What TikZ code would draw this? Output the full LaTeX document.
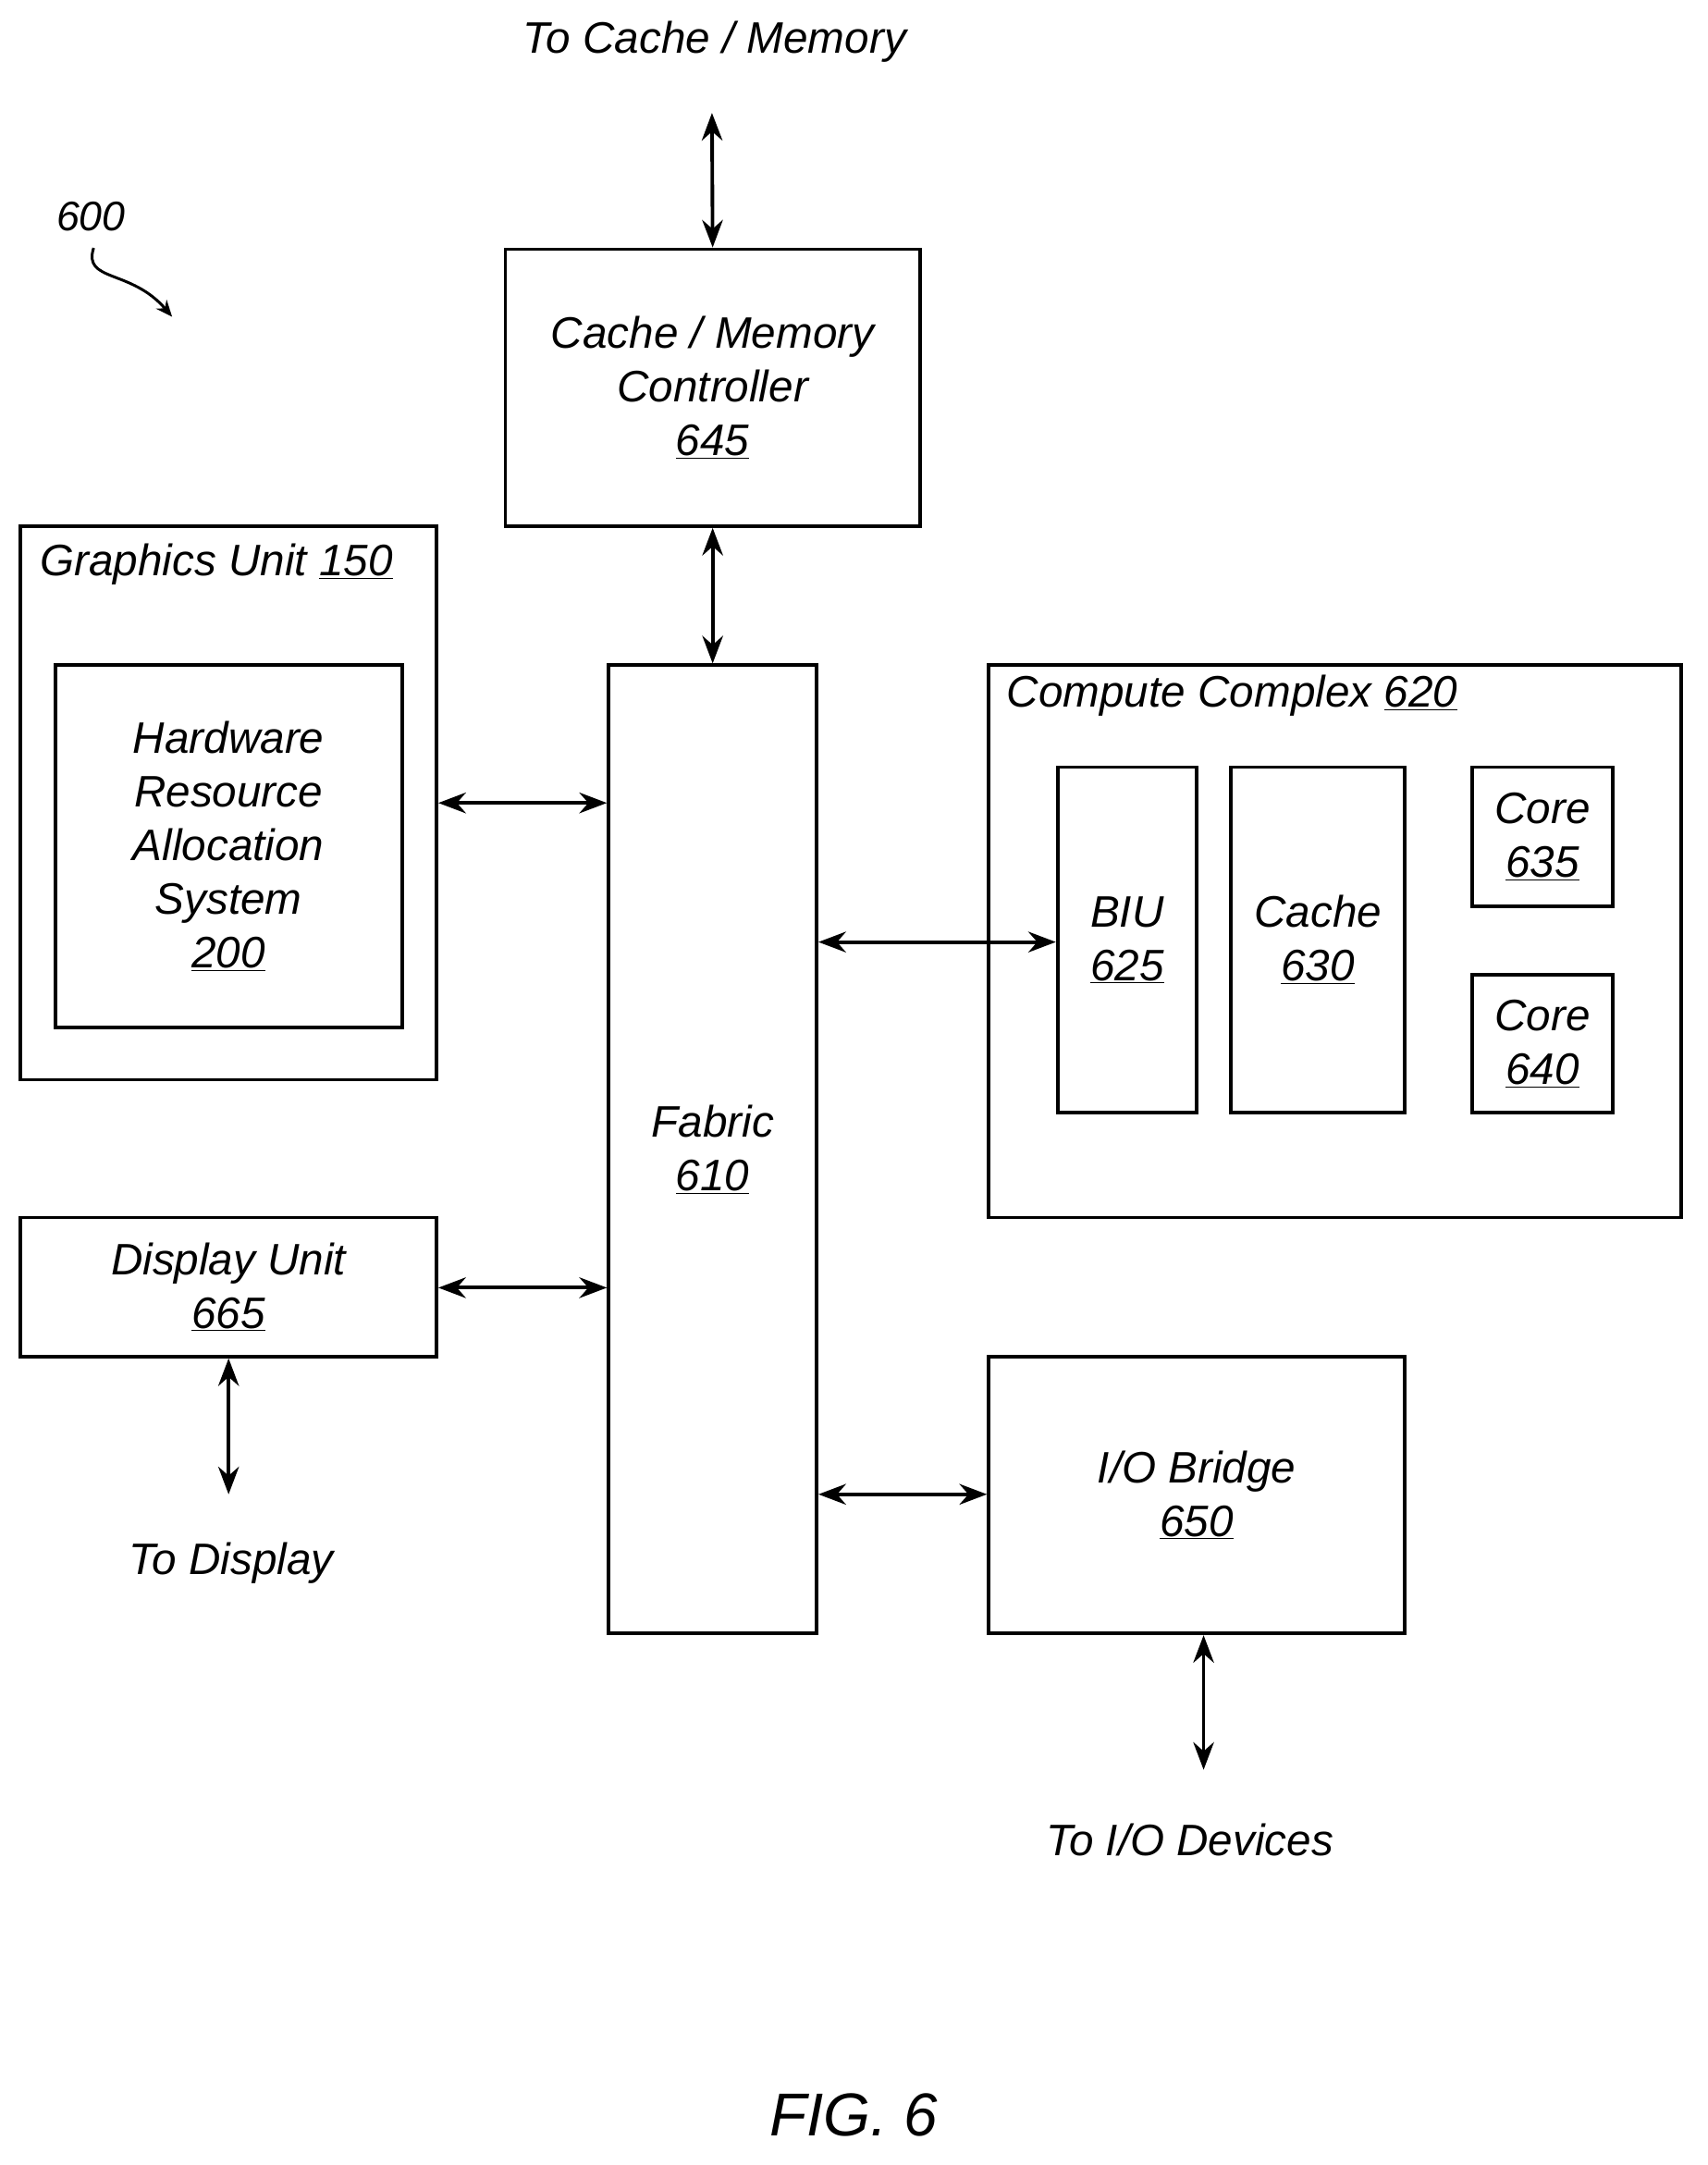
\documentclass[tikz,border=0pt]{standalone}
\usepackage{fontspec}
\setmainfont{Liberation Sans}
\usetikzlibrary{arrows.meta}
\begin{document}
\begin{tikzpicture}[x=1pt,y=-1pt,
  box/.style={draw,line width=2.6pt,rectangle,inner sep=0pt,align=center,font=\itshape\fontsize{32}{39}\selectfont},
  txt/.style={inner sep=0pt,align=center,font=\itshape\fontsize{32}{39}\selectfont},
  arr/.style={line width=2.6pt,{Stealth[length=20pt,width=15pt]}-{Stealth[length=20pt,width=15pt]}}]
\useasboundingbox (0,0) rectangle (1240,1572);
\newcommand{\bx}[6]{\node[box,minimum width=#4-#2,minimum height=#5-#3] (#1) at ({(#2+#4)/2},{(#3+#5)/2}) {#6};}
\bx{cmc}{367}{181}{668}{382}{Cache / Memory\\Controller\\\underline{645}}
\bx{gu}{15}{382}{317}{784}{}
\node[txt,anchor=west] (gut) at (29,410) {Graphics Unit \underline{150}};
\bx{hras}{40}{483}{292}{746}{Hardware\\Resource\\Allocation\\System\\\underline{200}}
\bx{fab}{442}{483}{593}{1186}{Fabric\\\underline{610}}
\bx{cc}{718}{483}{1221}{884}{}
\node[txt,anchor=west] (cct) at (731,505) {Compute Complex \underline{620}};
\bx{biu}{768}{557}{869}{808}{BIU\\\underline{625}}
\bx{cache}{894}{557}{1020}{808}{Cache\\\underline{630}}
\bx{c635}{1069}{557}{1171}{658}{Core\\\underline{635}}
\bx{c640}{1069}{708}{1171}{808}{Core\\\underline{640}}
\bx{du}{15}{884}{317}{985}{Display Unit\\\underline{665}}
\bx{io}{718}{985}{1020}{1186}{I/O Bridge\\\underline{650}}
\node[txt] (tcm) at (519,30) {To Cache / Memory};
\node[txt] (tdisp) at (168,1135) {To Display};
\node[txt] (tio) at (864,1336) {To I/O Devices};
\node[txt,font=\itshape\fontsize{44}{50}\selectfont] (fig) at (620,1536) {FIG. 6};
\node[txt,font=\itshape\fontsize{30}{36}\selectfont] (n600) at (66,157) {600};
\coordinate (cmtop) at (517,82);
\coordinate (dbot) at (166,1085);
\coordinate (iobot) at (874,1285);
\draw[arr] (cmtop) -- (cmc.north);
\draw[arr] (cmc.south) -- (fab.north);
\draw[arr] (gu.east |- 0,583) -- (fab.west |- 0,583);
\draw[arr] (fab.east |- 0,684) -- (biu.west |- 0,684);
\draw[arr] (du.east |- 0,935) -- (fab.west |- 0,935);
\draw[arr] (fab.east |- 0,1085) -- (io.west |- 0,1085);
\draw[arr] (du.south) -- (dbot);
\draw[arr] (io.south -| iobot) -- (iobot);
\coordinate (sq) at (125,230);
\draw[line width=2pt,-{Stealth[length=12pt,width=10pt]}] (68,180) .. controls (60,205) and (95,195) .. (sq);
\end{tikzpicture}
\end{document}
